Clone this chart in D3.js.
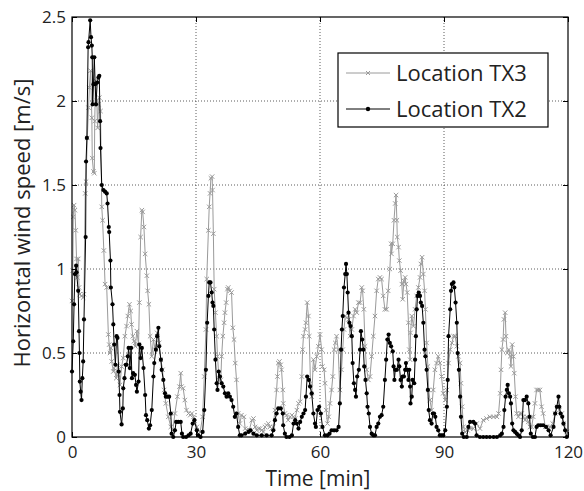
<!DOCTYPE html>
<html lang="en">
<head>
<meta charset="UTF-8">
<title>Horizontal wind speed</title>
<script src="https://d3js.org/d3.v7.min.js"></script>
<style>
    body { margin: 0; background: #fff; }
    svg text { font-family: 'Open Sans', sans-serif; fill: #222; }
    .grid line { stroke: #333; stroke-width: 0.8; stroke-dasharray: 1,2; }
</style>
</head>
<body>
<div id="chart"></div>
<script>
// [time (min), speed (m/s)]
const tx3 = [
 [0,0.81],[0.2,0.99],[0.3,1.31],[0.5,1.38],[0.7,1.35],[0.9,1.23],[1.1,1.06],[1.3,0.95],[1.5,1.06],[1.7,0.89],
 [1.9,0.85],[2.3,0.84],[2.7,0.83],[2.9,0.85],[3.2,1.45],[3.4,1.52],[3.7,1.78],[4.0,1.96],[4.2,2.08],[4.5,2.18],
 [4.8,1.9],[4.9,1.66],[5.2,1.58],[5.4,1.57],[5.5,1.88],[5.7,2.12],[6.0,2.0],[6.2,1.84],[6.4,1.98],[6.6,2.02],
 [6.9,1.94],[7.2,1.37],[7.4,1.29],[7.7,1.11],[8.0,0.91],[8.4,0.89],[8.8,0.61],[9.0,0.55],[9.2,0.5],[9.4,0.53],
 [9.6,0.45],[10.0,0.39],[10.2,0.41],[10.7,0.35],[11.0,0.43],[11.2,0.37],[11.6,0.31],[12.0,0.42],[12.4,0.47],[12.8,0.6],
 [13.2,0.66],[13.5,0.72],[13.9,0.79],[14.2,0.75],[14.4,0.67],[14.7,0.6],[15.0,0.57],[15.3,0.54],[15.7,0.63],[16.1,0.55],
 [16.3,0.8],[16.6,1.19],[16.9,1.35],[17.1,1.34],[17.4,1.25],[17.7,1.09],[18.1,0.96],[18.3,0.87],[18.6,0.79],[18.9,0.6],
 [19.3,0.48],[19.7,0.58],[20.1,0.52],[20.6,0.62],[21.1,0.56],[21.5,0.46],[21.9,0.4],[22.3,0.28],[22.7,0.2],[23.3,0.12],
 [23.9,0.06],[24.4,0.04],[24.9,0.14],[25.5,0.24],[26.0,0.3],[26.3,0.38],[26.5,0.3],[26.9,0.29],[27.3,0.22],[27.7,0.16],
 [28.2,0.14],[28.6,0.13],[29.0,0.14],[29.4,0.12],[30.2,0.06],[31.0,0.03],[31.6,0.12],[32.0,0.36],[32.4,0.64],[32.6,0.94],
 [33.0,1.23],[33.2,1.37],[33.4,1.45],[33.6,1.54],[33.9,1.55],[34.0,1.47],[34.2,1.21],[34.4,0.88],[34.7,0.74],[35.0,0.6],
 [35.2,0.48],[35.6,0.34],[36.0,0.34],[36.2,0.48],[36.5,0.6],[36.8,0.68],[37.0,0.74],[37.3,0.8],[37.6,0.88],[37.8,0.89],
 [38.2,0.87],[38.6,0.86],[38.9,0.65],[39.2,0.58],[39.5,0.44],[39.8,0.34],[40.2,0.14],[40.6,0.08],[41.0,0.13],[41.6,0.12],
 [41.9,0.05],[42.3,0.04],[42.9,0.04],[43.5,0.1],[43.9,0.11],[44.3,0.06],[44.7,0.04],[45.1,0.05],[45.5,0.05],[45.9,0.04],
 [46.3,0.03],[46.7,0.06],[47.1,0.07],[47.5,0.08],[47.9,0.06],[48.3,0.05],[48.7,0.06],[49.1,0.16],[49.5,0.28],[49.7,0.36],
 [49.9,0.44],[50.2,0.45],[50.5,0.43],[50.7,0.4],[51.0,0.28],[51.1,0.2],[51.5,0.14],[51.9,0.13],[52.3,0.1],[52.8,0.12],
 [53.2,0.13],[53.6,0.12],[54.0,0.11],[54.4,0.16],[54.8,0.2],[55.2,0.21],[55.6,0.36],[55.8,0.52],[56.0,0.6],[56.4,0.64],
 [56.6,0.68],[56.9,0.8],[57.2,0.72],[57.4,0.6],[57.7,0.32],[58.0,0.24],[58.4,0.46],[58.8,0.4],[59.2,0.48],[59.6,0.54],
 [60.0,0.61],[60.4,0.52],[60.6,0.42],[61.0,0.4],[61.2,0.32],[61.5,0.16],[61.8,0.08],[62.1,0.12],[62.4,0.2],[62.8,0.28],
 [63.1,0.36],[63.4,0.52],[63.7,0.56],[64.0,0.6],[64.4,0.52],[64.8,0.28],[65.2,0.4],[65.5,0.52],[65.8,0.64],[66.1,0.72],
 [66.5,0.71],[66.9,0.7],[67.3,0.6],[67.7,0.64],[68.1,0.72],[68.5,0.76],[68.9,0.74],[69.3,0.8],[69.7,0.8],[70.1,0.89],
 [70.3,0.87],[70.6,0.76],[70.9,0.54],[71.3,0.4],[71.7,0.34],[72.1,0.36],[72.5,0.48],[72.9,0.6],[73.3,0.72],[73.7,0.87],
 [74.1,0.94],[74.5,0.95],[74.9,0.94],[75.3,0.84],[75.7,0.76],[76.1,0.76],[76.5,0.87],[76.9,1.0],[77.2,1.15],[77.3,1.09],
 [77.6,1.15],[77.9,1.29],[78.2,1.39],[78.4,1.44],[78.6,1.29],[78.7,1.19],[79.0,1.13],[79.2,1.05],[79.5,0.99],[79.8,0.91],
 [80.0,0.82],[80.3,0.93],[80.6,0.95],[80.8,0.91],[81.1,0.86],[81.4,0.68],[81.6,0.52],[81.8,0.46],[81.9,0.62],[82.2,0.72],
 [82.6,0.66],[83.0,0.76],[83.4,0.84],[83.8,0.89],[84.2,0.95],[84.4,1.03],[84.7,1.07],[85.0,0.97],[85.3,0.87],[85.5,0.76],
 [85.8,0.56],[86.1,0.42],[86.3,0.28],[86.6,0.22],[87.0,0.16],[87.4,0.28],[87.8,0.4],[88.2,0.44],[88.6,0.48],[89.0,0.44],
 [89.4,0.36],[89.8,0.26],[90.3,0.22],[90.7,0.28],[91.1,0.44],[91.5,0.52],[91.9,0.56],[92.3,0.6],[92.7,0.6],[93.1,0.54],
 [93.5,0.48],[93.9,0.44],[94.1,0.32],[94.4,0.18],[94.7,0.06],[95.1,0.03],[95.7,0.04],[96.3,0.05],[97.1,0.05],[97.9,0.08],
 [98.7,0.05],[99.5,0.1],[100.3,0.11],[101.1,0.12],[102.0,0.12],[102.8,0.12],[103.2,0.14],[103.6,0.26],[103.8,0.4],[104.0,0.52],
 [104.3,0.58],[104.5,0.7],[104.8,0.74],[105.0,0.6],[105.3,0.5],[105.7,0.52],[106.0,0.48],[106.2,0.42],[106.5,0.55],[106.8,0.48],
 [107.0,0.38],[107.3,0.24],[107.6,0.14],[108.0,0.12],[108.4,0.14],[108.8,0.14],[109.2,0.12],[109.6,0.1],[110.0,0.12],[110.4,0.09],
 [110.8,0.06],[111.2,0.06],[111.6,0.12],[112.0,0.2],[112.4,0.28],[112.8,0.28],[113.2,0.28],[113.6,0.18],[114.0,0.14],[114.5,0.06],
 [114.9,0.06],[115.7,0.06],[116.3,0.08],[116.9,0.14],[117.4,0.18],[117.9,0.16],[118.5,0.14],[119.0,0.08],[119.7,0.03]
];

const tx2 = [
 [0,0.39],[0.3,0.57],[0.5,0.79],[0.7,0.97],[1.0,1.02],[1.1,0.98],[1.5,0.87],[1.7,0.63],[1.8,0.5],[1.9,0.33],
 [2.1,0.27],[2.3,0.22],[2.5,0.35],[2.7,0.45],[2.9,0.7],[3.3,1.19],[3.4,1.64],[3.6,1.78],[3.9,2.32],[4.0,2.35],
 [4.4,2.48],[4.6,2.38],[4.8,2.33],[4.9,2.26],[5.0,1.98],[5.2,2.1],[5.4,2.26],[5.6,2.1],[5.8,1.98],[6.1,2.11],
 [6.4,2.14],[6.6,2.15],[6.8,1.88],[6.9,1.72],[7.2,1.5],[7.6,1.47],[8.0,1.46],[8.4,1.45],[8.6,1.39],[8.9,1.25],
 [9.0,1.22],[9.3,1.05],[9.4,0.89],[9.8,0.79],[10.0,0.67],[10.2,0.55],[10.5,0.43],[10.8,0.6],[11.0,0.59],[11.3,0.39],
 [11.5,0.25],[11.6,0.15],[12.0,0.075],[12.3,0.17],[12.4,0.29],[12.7,0.35],[13.0,0.43],[13.2,0.43],[13.5,0.48],[13.7,0.53],
 [14.0,0.41],[14.3,0.53],[14.5,0.35],[14.8,0.38],[15.2,0.37],[15.5,0.31],[15.7,0.27],[16.1,0.33],[16.3,0.55],[16.6,0.47],
 [16.9,0.53],[17.3,0.41],[17.7,0.25],[17.9,0.13],[18.2,0.1],[18.6,0.05],[18.9,0.07],[19.3,0.16],[19.7,0.36],[19.9,0.44],
 [20.3,0.52],[20.6,0.6],[20.9,0.65],[21.1,0.54],[21.5,0.46],[21.7,0.4],[22.1,0.34],[22.5,0.26],[22.7,0.24],[23.1,0.24],
 [23.5,0.24],[23.9,0.14],[24.1,0.02],[24.5,0.0],[24.9,0.04],[25.2,0.09],[25.7,0.09],[26.3,0.09],[26.6,0.02],[26.9,0.0],
 [27.6,0.0],[28.2,0.01],[28.7,0.02],[29.2,0.08],[29.6,0.1],[30.2,0.04],[30.6,0.01],[31.1,0.0],[31.6,0.03],[32.0,0.16],
 [32.4,0.4],[32.7,0.68],[33.0,0.84],[33.2,0.92],[33.5,0.92],[33.8,0.86],[34.0,0.8],[34.2,0.78],[34.4,0.64],[34.7,0.46],
 [35.0,0.32],[35.2,0.28],[35.5,0.39],[35.8,0.36],[36.2,0.32],[36.6,0.3],[37.0,0.26],[37.4,0.24],[37.8,0.26],[38.2,0.24],
 [38.6,0.22],[39.0,0.18],[39.4,0.12],[39.8,0.14],[40.2,0.06],[40.6,0.01],[41.0,0.01],[41.9,0.02],[42.7,0.03],[43.2,0.04],
 [43.9,0.02],[44.7,0.01],[45.9,0.01],[47.1,0.01],[48.3,0.01],[48.7,0.04],[49.1,0.1],[49.5,0.14],[49.9,0.17],[50.5,0.17],
 [51.0,0.14],[51.1,0.07],[51.5,0.02],[51.9,0.0],[52.6,0.0],[53.2,0.01],[53.6,0.08],[54.0,0.1],[54.4,0.08],[54.8,0.05],
 [55.2,0.09],[55.6,0.12],[56.0,0.14],[56.4,0.16],[56.6,0.24],[56.9,0.36],[57.3,0.34],[57.6,0.3],[58.0,0.26],[58.4,0.14],
 [58.8,0.08],[59.0,0.06],[59.4,0.16],[59.8,0.18],[60.2,0.14],[60.6,0.06],[61.2,0.01],[61.8,0.01],[62.3,0.02],[62.8,0.04],
 [63.4,0.04],[64.0,0.04],[64.5,0.06],[64.8,0.2],[65.1,0.52],[65.3,0.64],[65.5,0.72],[65.8,0.89],[66.1,0.97],[66.3,1.03],
 [66.5,0.97],[66.7,0.86],[66.9,0.74],[67.1,0.68],[67.4,0.66],[67.7,0.6],[67.9,0.44],[68.2,0.32],[68.5,0.28],[68.7,0.24],
 [69.0,0.36],[69.4,0.4],[69.7,0.52],[69.9,0.63],[70.2,0.58],[70.5,0.52],[70.7,0.42],[71.0,0.34],[71.3,0.26],[71.5,0.18],
 [71.8,0.14],[72.1,0.06],[72.5,0.02],[72.9,0.01],[73.3,0.01],[73.7,0.06],[74.1,0.08],[74.5,0.12],[74.9,0.13],[75.3,0.18],
 [75.7,0.34],[76.0,0.46],[76.3,0.58],[76.6,0.61],[76.9,0.56],[77.2,0.54],[77.6,0.51],[77.8,0.42],[78.0,0.34],[78.2,0.4],
 [78.6,0.4],[79.0,0.46],[79.2,0.42],[79.5,0.34],[79.8,0.3],[80.0,0.36],[80.3,0.36],[80.6,0.4],[80.8,0.44],[81.1,0.4],
 [81.4,0.34],[81.6,0.4],[81.8,0.3],[81.9,0.2],[82.2,0.24],[82.4,0.34],[82.8,0.32],[83.0,0.46],[83.2,0.6],[83.4,0.76],
 [83.6,0.84],[83.9,0.86],[84.2,0.84],[84.4,0.8],[84.7,0.78],[85.0,0.68],[85.3,0.52],[85.5,0.48],[85.8,0.4],[86.1,0.28],
 [86.3,0.16],[86.6,0.1],[87.0,0.08],[87.3,0.14],[87.6,0.14],[87.9,0.12],[88.2,0.06],[88.6,0.04],[89.0,0.01],[89.4,0.01],
 [89.8,0.01],[90.3,0.04],[90.7,0.18],[90.9,0.34],[91.1,0.6],[91.5,0.76],[91.7,0.87],[91.9,0.91],[92.3,0.92],[92.5,0.89],
 [92.8,0.8],[93.1,0.68],[93.3,0.5],[93.6,0.4],[93.9,0.24],[94.1,0.12],[94.4,0.02],[94.8,0.0],[95.5,0.0],[95.9,0.06],
 [96.3,0.09],[97.1,0.09],[97.5,0.08],[97.9,0.01],[98.7,0.0],[99.5,0.0],[100.3,0.0],[101.1,0.0],[102.0,0.0],[102.8,0.0],
 [103.6,0.01],[104.0,0.02],[104.4,0.06],[104.6,0.16],[104.9,0.24],[105.2,0.28],[105.4,0.31],[105.7,0.26],[106.0,0.24],[106.2,0.2],
 [106.5,0.08],[106.8,0.04],[107.2,0.03],[107.6,0.02],[108.0,0.01],[108.4,0.0],[108.8,0.04],[109.2,0.22],[109.6,0.22],[110.0,0.24],
 [110.4,0.2],[110.7,0.12],[111.0,0.02],[111.5,0.0],[112.0,0.0],[112.4,0.06],[112.8,0.07],[113.4,0.07],[114.0,0.07],[114.7,0.06],
 [115.3,0.04],[115.8,0.01],[116.5,0.06],[116.9,0.14],[117.3,0.18],[117.7,0.24],[117.9,0.18],[118.2,0.14],[118.6,0.12],[118.9,0.08],
 [119.3,0.04],[119.7,0.0]
];

const seriesNames = ["Location TX3", "Location TX2"];
const xTicks = [0, 30, 60, 90, 120];
const yTicks = [0, 0.5, 1, 1.5, 2, 2.5];

const width = 584, height = 491;
const margin = { top: 17, right: 16, bottom: 54, left: 72 };
const iw = width - margin.left - margin.right;
const ih = height - margin.top - margin.bottom;

const svg = d3.select("#chart").append("svg")
    .attr("width", width)
    .attr("height", height);

const g = svg.append("g").attr("transform", `translate(${margin.left},${margin.top})`);

const x = d3.scaleLinear().domain([0, 120]).range([0, iw]);
const y = d3.scaleLinear().domain([0, 2.5]).range([ih, 0]);

// grid
const grid = g.append("g").attr("class", "grid");
grid.selectAll(".gx").data(xTicks.slice(1, -1)).enter().append("line")
    .attr("x1", d => x(d)).attr("x2", d => x(d)).attr("y1", 0).attr("y2", ih);
grid.selectAll(".gy").data(yTicks.slice(1, -1)).enter().append("line")
    .attr("y1", d => y(d)).attr("y2", d => y(d)).attr("x1", 0).attr("x2", iw);

const line = d3.line().x(d => x(d[0])).y(d => y(d[1]));

// TX3 - grey with x markers
const grey = "#9a9a9a";
g.append("path").datum(tx3)
    .attr("fill", "none").attr("stroke", grey).attr("stroke-width", 1)
    .attr("d", line);
g.append("g").selectAll("path").data(tx3).enter().append("path")
    .attr("d", d => {
        const px = x(d[0]), py = y(d[1]), s = 2.2;
        return `M${px - s},${py - s}L${px + s},${py + s}M${px - s},${py + s}L${px + s},${py - s}`;
    })
    .attr("stroke", grey).attr("stroke-width", 1);

// TX2 - black with dots
g.append("path").datum(tx2)
    .attr("fill", "none").attr("stroke", "#000").attr("stroke-width", 1)
    .attr("d", line);
g.append("g").selectAll("circle").data(tx2).enter().append("circle")
    .attr("cx", d => x(d[0])).attr("cy", d => y(d[1])).attr("r", 2.1)
    .attr("fill", "#000");

// axes, MATLAB style ticks pointing in
const tickLen = 5;
g.append("g").attr("transform", `translate(0,${ih})`)
    .call(d3.axisBottom(x).tickValues(xTicks).tickSizeInner(-tickLen).tickSizeOuter(0).tickPadding(9))
    .call(a => a.select(".domain").remove())
    .selectAll("text").style("font-size", "17px");
g.append("g")
    .call(d3.axisLeft(y).tickValues(yTicks).tickFormat(d3.format("")).tickSizeInner(-tickLen).tickSizeOuter(0).tickPadding(6))
    .call(a => a.select(".domain").remove())
    .selectAll("text").style("font-size", "17px");
g.append("g").attr("transform", `translate(${iw},0)`)
    .call(d3.axisRight(y).tickValues(yTicks).tickSizeInner(-tickLen).tickSizeOuter(0).tickFormat(""))
    .call(a => a.select(".domain").remove());
g.append("g")
    .call(d3.axisTop(x).tickValues(xTicks).tickSizeInner(-tickLen).tickSizeOuter(0).tickFormat(""))
    .call(a => a.select(".domain").remove());

g.append("rect").attr("width", iw).attr("height", ih)
    .attr("fill", "none").attr("stroke", "#000").attr("stroke-width", 1.2);

// axis titles
svg.append("text")
    .attr("x", margin.left + iw / 2 - 2).attr("y", height - 5)
    .attr("text-anchor", "middle").style("font-size", "21px")
    .text("Time [min]");
svg.append("text")
    .attr("transform", `translate(30,${margin.top + ih / 2 - 4}) rotate(-90)`)
    .attr("text-anchor", "middle").style("font-size", "22px")
    .text("Horizontal wind speed [m/s]");

// legend
const lg = svg.append("g").attr("transform", "translate(338,53)");
lg.append("rect").attr("width", 210).attr("height", 74)
    .attr("fill", "#fff").attr("stroke", "#000").attr("stroke-width", 1.2);
seriesNames.forEach((name, i) => {
    const ly = 20 + i * 36;
    const col = i === 0 ? grey : "#000";
    lg.append("line").attr("x1", 8).attr("x2", 52).attr("y1", ly).attr("y2", ly)
        .attr("stroke", col).attr("stroke-width", 1);
    if (i === 0) {
        lg.append("path").attr("d", `M28,${ly - 2}L32,${ly + 2}M28,${ly + 2}L32,${ly - 2}`)
            .attr("stroke", col);
    } else {
        lg.append("circle").attr("cx", 30).attr("cy", ly).attr("r", 2.2).attr("fill", col);
    }
    lg.append("text").attr("x", 58).attr("y", ly).attr("dy", "0.35em")
        .style("font-size", "22px").text(name);
});
</script>
</body>
</html>
